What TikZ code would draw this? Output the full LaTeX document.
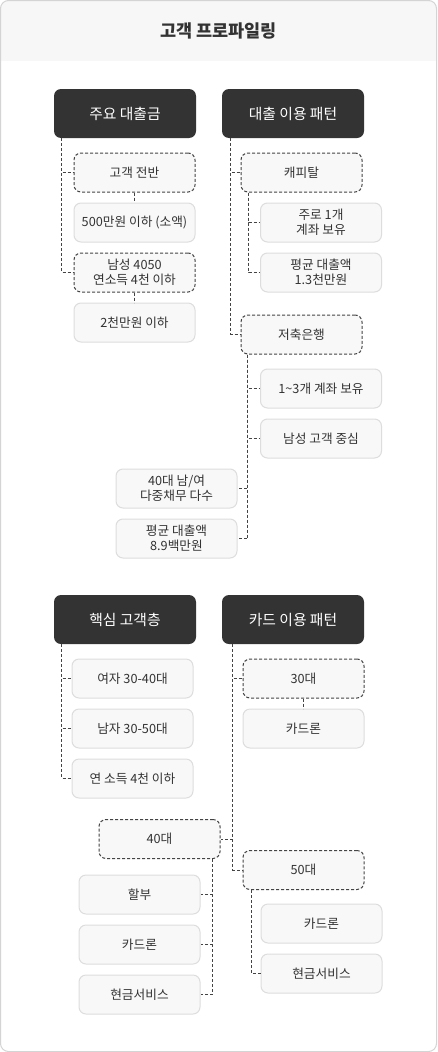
\documentclass[tikz,border=0pt]{standalone}
\usepackage{fontspec}
\setmainfont{Noto Sans CJK KR}
\definecolor{hdrc}{HTML}{333333}
\definecolor{txtc}{HTML}{333333}
\definecolor{boxfill}{HTML}{F8F8F8}
\definecolor{boxline}{HTML}{DDDDDD}
\definecolor{dline}{HTML}{444444}
\definecolor{framec}{HTML}{D4D4D4}
\definecolor{bandc}{HTML}{F7F7F7}
\tikzset{
  hdr/.style={fill=hdrc, text=white, rounded corners=7pt, minimum width=142pt, minimum height=49pt, inner sep=0pt, font=\fontsize{14.8}{18}\selectfont},
  box/.style={fill=boxfill, draw=boxline, line width=1pt, rounded corners=7pt, minimum width=121pt, minimum height=39pt, inner sep=0pt, text=txtc, align=center, font=\fontsize{12.7}{15}\selectfont},
  dbox/.style={box, draw=dline, dash pattern=on 3pt off 2pt},
  conn/.style={draw=dline, line width=1pt, dash pattern=on 3pt off 2pt}
}
\begin{document}
\begin{tikzpicture}[x=1pt,y=-1pt]
\useasboundingbox (0,0) rectangle (437,1052);
\fill[white, rounded corners=8pt] (0.5,0.5) rectangle (436.5,1051.5);
\begin{scope}
\clip[rounded corners=8pt] (0.5,0.5) rectangle (436.5,1051.5);
\fill[bandc] (0,0) rectangle (437,61);
\end{scope}
\draw[framec, line width=1pt, rounded corners=8pt] (0.5,0.5) rectangle (436.5,1051.5);
\node[text=txtc, font=\bfseries\fontsize{17.5}{20}\selectfont] (title) at (218.5,31) {고객 프로파일링};

% top section
\node[hdr] (h1) at (125,113.5) {주요 대출금};
\node[hdr] (h2) at (293,113.5) {대출 이용 패턴};
\node[dbox] (b1) at (134.5,172.5) {고객 전반};
\node[box]  (b2) at (134.5,222.5) {500만원 이하 (소액)};
\node[dbox] (b3) at (134.5,272.5) {남성 4050\\연소득 4천 이하};
\node[box]  (b4) at (134.5,322.5) {2천만원 이하};
\node[dbox] (c1) at (301.5,172.5) {캐피탈};
\node[box]  (c2) at (321,222.5) {주로 1개\\계좌 보유};
\node[box]  (c3) at (321,272.5) {평균 대출액\\1.3천만원};
\node[dbox] (s1) at (301.5,334.5) {저축은행};
\node[box]  (s2) at (321,388.5) {1\textasciitilde3개 계좌 보유};
\node[box]  (s3) at (321,438.5) {남성 고객 중심};
\node[box]  (s4) at (176.5,488.5) {40대 남/여\\다중채무 다수};
\node[box]  (s5) at (176.5,538.5) {평균 대출액\\8.9백만원};

\draw[conn] ([xshift=8pt]h1.south west) |- (b1.west);
\draw[conn] ([xshift=8pt]h1.south west) |- (b3.west);
\draw[conn] (b1.south) -- (b2.north);
\draw[conn] (b3.south) -- (b4.north);
\draw[conn] ([xshift=9pt]h2.south west) |- (c1.west);
\draw[conn] ([xshift=9pt]h2.south west) |- (s1.west);
\draw[conn] ([xshift=8pt]c1.south west) |- (c2.west);
\draw[conn] ([xshift=8pt]c1.south west) |- (c3.west);
\draw[conn] ([xshift=7pt]s1.south west) |- (s2.west);
\draw[conn] ([xshift=7pt]s1.south west) |- (s3.west);
\draw[conn] ([xshift=7pt]s1.south west) |- (s4.east);
\draw[conn] ([xshift=7pt]s1.south west) |- (s5.east);

% bottom section
\node[hdr] (h3) at (125,619.5) {핵심 고객층};
\node[hdr] (h4) at (293,619.5) {카드 이용 패턴};
\node[box]  (e1) at (132.5,678.5) {여자 30-40대};
\node[box]  (e2) at (132.5,728.5) {남자 30-50대};
\node[box]  (e3) at (132.5,778.5) {연 소득 4천 이하};
\node[dbox] (f1) at (303.5,678.5) {30대};
\node[box]  (f2) at (303.5,728.5) {카드론};
\node[dbox] (g1) at (159.5,839) {40대};
\node[box]  (g2) at (139.5,894.5) {할부};
\node[box]  (g3) at (139.5,944.5) {카드론};
\node[box]  (g4) at (139.5,994.5) {현금서비스};
\node[dbox] (k1) at (303.5,870) {50대};
\node[box]  (k2) at (321.5,923.5) {카드론};
\node[box]  (k3) at (321.5,973.5) {현금서비스};

\draw[conn] ([xshift=8pt]h3.south west) |- (e1.west);
\draw[conn] ([xshift=8pt]h3.south west) |- (e2.west);
\draw[conn] ([xshift=8pt]h3.south west) |- (e3.west);
\draw[conn] ([xshift=11pt]h4.south west) |- (f1.west);
\draw[conn] ([xshift=11pt]h4.south west) |- (g1.east);
\draw[conn] ([xshift=11pt]h4.south west) |- (k1.west);
\draw[conn] (f1.south) -- (f2.north);
\draw[conn] ([xshift=-8pt]g1.south east) |- (g2.east);
\draw[conn] ([xshift=-8pt]g1.south east) |- (g3.east);
\draw[conn] ([xshift=-8pt]g1.south east) |- (g4.east);
\draw[conn] ([xshift=9pt]k1.south west) |- (k3.west);
\end{tikzpicture}
\end{document}
